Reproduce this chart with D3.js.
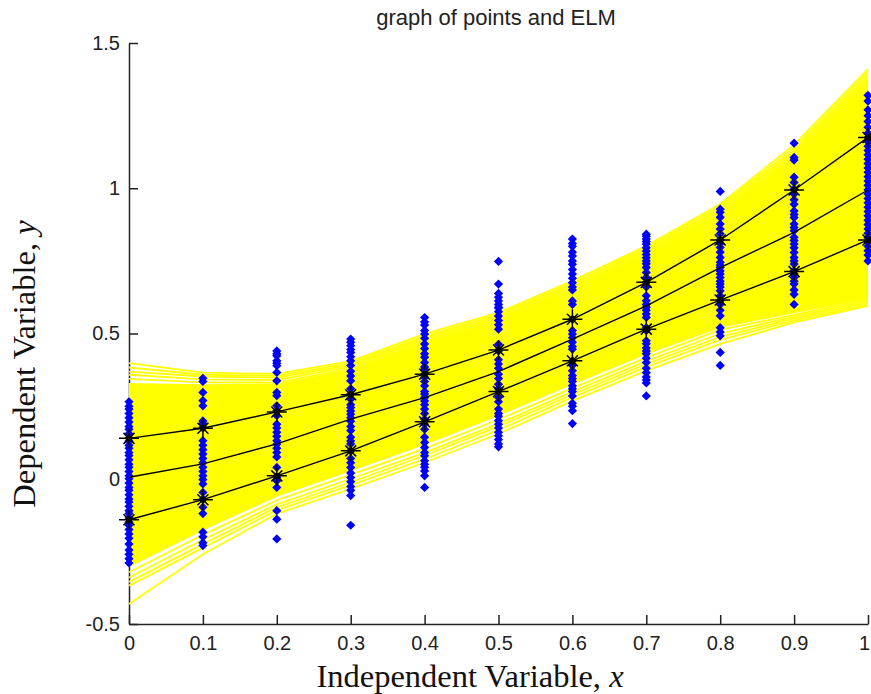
<!DOCTYPE html>
<html>
<head>
<meta charset="utf-8">
<script src="https://cdnjs.cloudflare.com/ajax/libs/d3/7.8.5/d3.min.js"></script>
<style>
    html, body { margin: 0; padding: 0; background: #fff; }
    svg { display: block; }
    .tick text { font-family: "Liberation Sans", Arial, sans-serif; font-size: 20px; fill: #222; }
    .tick line, .domain { stroke: #222; stroke-width: 1.5; }
    .big-label { font-family: "Liberation Serif", "Times New Roman", serif; font-size: 32.5px; fill: #111; }
</style>
</head>
<body>
<div id="chart"></div>
<script>
// values
var xValues = [0, 0.1, 0.2, 0.3, 0.4, 0.5, 0.6, 0.7, 0.8, 0.9, 1];
var xTickLabels = ["0", "0.1", "0.2", "0.3", "0.4", "0.5", "0.6", "0.7", "0.8", "0.9", "1"];
var yTicks = [-0.5, 0, 0.5, 1, 1.5];
var yTickLabels = ["-0.5", "0", "0.5", "1", "1.5"];

// black lines
var upperLine = [0.139, 0.174, 0.230, 0.289, 0.360, 0.443, 0.549, 0.676, 0.822, 0.994, 1.175];
var middleLine = [0.005, 0.051, 0.120, 0.205, 0.279, 0.369, 0.481, 0.595, 0.727, 0.848, 0.994];
var lowerLine = [-0.141, -0.072, 0.010, 0.096, 0.196, 0.300, 0.406, 0.515, 0.615, 0.713, 0.822];

// solid part of the yellow band
var bandTop = [0.330, 0.325, 0.328, 0.376, 0.472, 0.546, 0.654, 0.775, 0.916, 1.114, 1.372];
var bandBottom = [-0.305, -0.178, -0.062, 0.026, 0.116, 0.216, 0.324, 0.428, 0.520, 0.570, 0.620];

// separate yellow lines at the edges of the band
var topLines = [
    [0.398, 0.365, 0.361, 0.405, 0.499, 0.572, 0.681, 0.802, 0.946, 1.150, 1.410],
    [0.383, 0.358, 0.354, 0.398, 0.491, 0.565, 0.674, 0.795, 0.938, 1.140, 1.400],
    [0.369, 0.352, 0.348, 0.392, 0.486, 0.559, 0.668, 0.789, 0.930, 1.131, 1.390],
    [0.358, 0.342, 0.340, 0.386, 0.480, 0.553, 0.662, 0.783, 0.924, 1.124, 1.382],
    [0.344, 0.332, 0.331, 0.379, 0.474, 0.548, 0.656, 0.777, 0.918, 1.116, 1.374]
];
var bottomLines = [
    [-0.431, -0.260, -0.120, -0.035, 0.056, 0.155, 0.268, 0.372, 0.464, 0.538, 0.595],
    [-0.368, -0.238, -0.108, -0.022, 0.068, 0.168, 0.280, 0.385, 0.478, 0.545, 0.600],
    [-0.355, -0.225, -0.098, -0.012, 0.080, 0.180, 0.290, 0.395, 0.488, 0.552, 0.606],
    [-0.340, -0.210, -0.088, 0.000, 0.090, 0.190, 0.300, 0.405, 0.500, 0.558, 0.612],
    [-0.322, -0.193, -0.074, 0.014, 0.104, 0.204, 0.312, 0.417, 0.513, 0.564, 0.618]
];

// blue points, one list for each x
var bluePoints = [
    [0.265, 0.250, 0.240, 0.225, 0.210, 0.195, 0.180, 0.170, 0.155, 0.140, 0.130, 0.115, 0.105, 0.090, 0.080, 0.065, 0.050, 0.040, 0.025, 0.010, 0.000, -0.015, -0.030, -0.040, -0.055, -0.070, -0.080, -0.095, -0.110, -0.120, -0.135, -0.150, -0.160, -0.175, -0.190, -0.205, -0.225, -0.245, -0.260, -0.275, -0.290],
    [0.346, 0.335, 0.297, 0.269, 0.251, 0.199, 0.190, 0.177, 0.131, 0.115, 0.100, 0.085, 0.070, 0.055, 0.040, 0.025, 0.010, -0.003, -0.018, -0.047, -0.070, -0.098, -0.120, -0.184, -0.200, -0.220, -0.230],
    [0.440, 0.430, 0.423, 0.406, 0.398, 0.389, 0.366, 0.337, 0.297, 0.286, 0.251, 0.234, 0.217, 0.188, 0.175, 0.160, 0.146, 0.131, 0.119, 0.105, 0.090, 0.075, 0.039, 0.005, -0.007, -0.030, -0.110, -0.139, -0.207],
    [0.481, 0.470, 0.458, 0.445, 0.435, 0.420, 0.406, 0.390, 0.370, 0.354, 0.337, 0.310, 0.292, 0.274, 0.255, 0.245, 0.233, 0.222, 0.210, 0.198, 0.180, 0.166, 0.143, 0.130, 0.120, 0.096, 0.070, 0.055, 0.039, 0.020, 0.004, -0.010, -0.027, -0.040, -0.058, -0.160],
    [0.555, 0.540, 0.529, 0.510, 0.498, 0.484, 0.464, 0.448, 0.430, 0.418, 0.400, 0.385, 0.377, 0.360, 0.349, 0.335, 0.320, 0.300, 0.292, 0.280, 0.268, 0.255, 0.240, 0.225, 0.205, 0.188, 0.170, 0.143, 0.125, 0.108, 0.090, 0.079, 0.062, 0.050, 0.040, 0.027, 0.010, -0.030],
    [0.748, 0.670, 0.638, 0.625, 0.612, 0.600, 0.590, 0.588, 0.575, 0.560, 0.545, 0.530, 0.515, 0.463, 0.440, 0.410, 0.395, 0.380, 0.360, 0.345, 0.325, 0.310, 0.280, 0.265, 0.240, 0.225, 0.215, 0.200, 0.188, 0.175, 0.160, 0.148, 0.135, 0.120, 0.110],
    [0.825, 0.810, 0.800, 0.780, 0.767, 0.750, 0.738, 0.720, 0.705, 0.690, 0.675, 0.660, 0.650, 0.612, 0.600, 0.549, 0.510, 0.498, 0.485, 0.470, 0.455, 0.446, 0.406, 0.390, 0.372, 0.355, 0.345, 0.335, 0.320, 0.310, 0.300, 0.285, 0.260, 0.250, 0.234, 0.190],
    [0.842, 0.835, 0.825, 0.817, 0.808, 0.795, 0.784, 0.772, 0.761, 0.750, 0.740, 0.727, 0.710, 0.693, 0.676, 0.660, 0.630, 0.613, 0.600, 0.590, 0.580, 0.567, 0.555, 0.520, 0.510, 0.475, 0.465, 0.450, 0.440, 0.430, 0.415, 0.400, 0.380, 0.365, 0.350, 0.340, 0.330, 0.285],
    [0.989, 0.928, 0.917, 0.900, 0.877, 0.860, 0.843, 0.822, 0.810, 0.796, 0.780, 0.762, 0.745, 0.735, 0.727, 0.715, 0.705, 0.693, 0.680, 0.670, 0.660, 0.647, 0.630, 0.613, 0.600, 0.580, 0.561, 0.520, 0.505, 0.492, 0.435, 0.390],
    [1.155, 1.106, 1.097, 1.038, 1.020, 0.997, 0.980, 0.960, 0.945, 0.922, 0.910, 0.899, 0.877, 0.865, 0.854, 0.831, 0.820, 0.808, 0.795, 0.779, 0.762, 0.750, 0.739, 0.716, 0.705, 0.693, 0.680, 0.670, 0.650, 0.635, 0.600],
    [1.320, 1.300, 1.270, 1.250, 1.230, 1.210, 1.190, 1.175, 1.160, 1.145, 1.130, 1.115, 1.100, 1.085, 1.070, 1.055, 1.040, 1.025, 1.010, 0.995, 0.980, 0.965, 0.950, 0.935, 0.920, 0.905, 0.890, 0.875, 0.860, 0.845, 0.830, 0.815, 0.800, 0.785, 0.770, 0.750]
];

var width = 871,
    height = 694;

var xScale = d3.scaleLinear()
    .domain([0, 1])
    .range([129, 868]);

var yScale = d3.scaleLinear()
    .domain([-0.5, 1.5])
    .range([624, 43]);

var svg = d3.select("#chart").append("svg")
    .attr("width", width)
    .attr("height", height);

// axes first, the marks sit on top of them
var xAxis = svg.append("g")
    .attr("transform", "translate(0,624)")
    .call(d3.axisBottom(xScale)
        .tickValues(xValues)
        .tickFormat(function (d, i) { return xTickLabels[i]; })
        .tickSizeInner(-9)
        .tickSizeOuter(0)
        .tickPadding(12));

// last label would run off the page
xAxis.selectAll(".tick text")
    .filter(function (d) { return d === 1; })
    .attr("dx", -4);

svg.append("g")
    .attr("transform", "translate(129,0)")
    .call(d3.axisLeft(yScale)
        .tickValues(yTicks)
        .tickFormat(function (d, i) { return yTickLabels[i]; })
        .tickSizeInner(-9)
        .tickSizeOuter(0)
        .tickPadding(9));

var lineFunction = d3.line()
    .x(function (d, i) { return xScale(xValues[i]); })
    .y(function (d) { return yScale(d); });

var bandArea = d3.area()
    .x(function (d, i) { return xScale(xValues[i]); })
    .y0(function (d, i) { return yScale(bandBottom[i]); })
    .y1(function (d) { return yScale(d); });

svg.append("path")
    .attr("d", bandArea(bandTop))
    .attr("fill", "#ffff00");

svg.append("g").selectAll("path")
    .data(topLines.concat(bottomLines))
    .enter().append("path")
    .attr("d", lineFunction)
    .attr("fill", "none")
    .attr("stroke", "#ffff00")
    .attr("stroke-width", 1.8);

// the dots look like small diamonds at this resolution
function diamond(r) {
    var p = d3.path();
    p.moveTo(0, -r);
    p.lineTo(r, 0);
    p.lineTo(0, r);
    p.lineTo(-r, 0);
    p.closePath();
    return p.toString();
}

var flatPoints = [];
bluePoints.forEach(function (col, i) {
    col.forEach(function (v) {
        flatPoints.push({x: xValues[i], y: v});
    });
});

svg.append("g").selectAll("path")
    .data(flatPoints)
    .enter().append("path")
    .attr("d", diamond(4.6))
    .attr("fill", "#0000ff")
    .attr("transform", function (d) {
        return "translate(" + xScale(d.x) + "," + yScale(d.y) + ")";
    });

svg.append("g").selectAll("path")
    .data([upperLine, middleLine, lowerLine])
    .enter().append("path")
    .attr("d", lineFunction)
    .attr("fill", "none")
    .attr("stroke", "#000")
    .attr("stroke-width", 1.4);

function star(rLong, rShort) {
    var p = d3.path();
    p.moveTo(-rLong, 0); p.lineTo(rLong, 0);
    p.moveTo(0, -rLong); p.lineTo(0, rLong);
    p.moveTo(-rShort, -rShort); p.lineTo(rShort, rShort);
    p.moveTo(-rShort, rShort); p.lineTo(rShort, -rShort);
    return p.toString();
}

var starPoints = [];
[upperLine, lowerLine].forEach(function (line) {
    line.forEach(function (v, i) {
        starPoints.push({x: xValues[i], y: v});
    });
});

var stars = svg.append("g").selectAll("g")
    .data(starPoints)
    .enter().append("g")
    .attr("transform", function (d) {
        return "translate(" + xScale(d.x) + "," + yScale(d.y) + ")";
    });

stars.append("path")
    .attr("d", star(10, 5.5))
    .attr("fill", "none")
    .attr("stroke", "#000")
    .attr("stroke-width", 1.5);

stars.append("circle")
    .attr("r", 3.2)
    .attr("fill", "#000");

svg.append("text")
    .attr("x", 496)
    .attr("y", 25)
    .attr("text-anchor", "middle")
    .style("font-family", '"Liberation Sans", Arial, sans-serif')
    .style("font-size", "22px")
    .style("fill", "#222")
    .text("graph of points and ELM");

var xLabel = svg.append("text")
    .attr("class", "big-label")
    .attr("x", 470)
    .attr("y", 687)
    .attr("text-anchor", "middle");
xLabel.append("tspan").text("Independent Variable, ");
xLabel.append("tspan").style("font-style", "italic").text("x");

var yLabel = svg.append("text")
    .attr("class", "big-label")
    .attr("transform", "translate(35,364) rotate(-90)")
    .attr("text-anchor", "middle");
yLabel.append("tspan").text("Dependent Variable, ");
yLabel.append("tspan").style("font-style", "italic").text("y");
</script>
</body>
</html>
